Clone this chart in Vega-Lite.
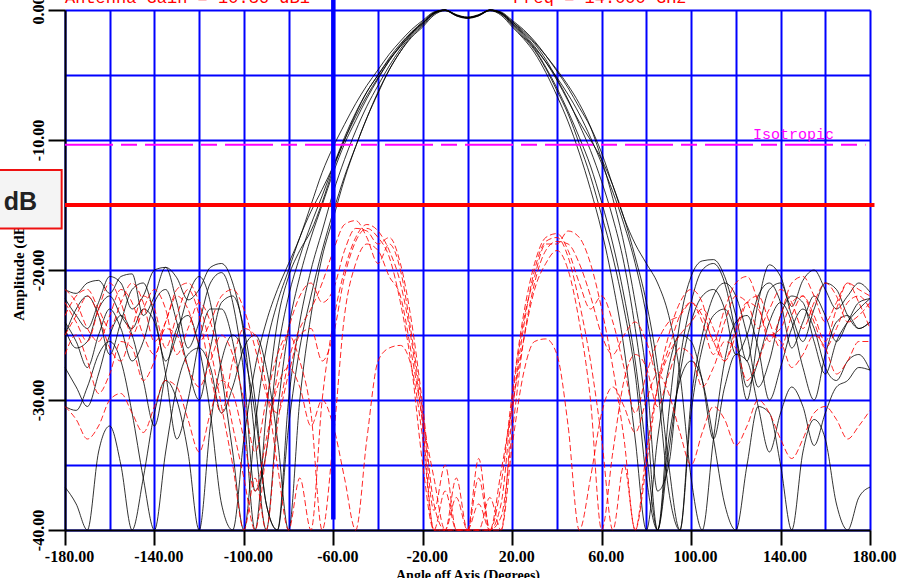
{
"$schema":"https://vega.github.io/schema/vega-lite/v6.json",
"width":805,"height":520,
"autosize":{"type":"none"},
"padding":{"left":65,"top":10,"right":27,"bottom":48},
"background":"white",
"config":{"view":{"stroke":null}},
"datasets":{
"c":[
{"s":"b1","x":-180,"y":-21.5},{"s":"b1","x":-175,"y":-21.8},{"s":"b1","x":-170,"y":-21.0},{"s":"b1","x":-165,"y":-20.8},{"s":"b1","x":-160,"y":-21.8},{"s":"b1","x":-155,"y":-20.5},{"s":"b1","x":-150,"y":-20.3},{"s":"b1","x":-145,"y":-23.5},{"s":"b1","x":-140,"y":-22.0},{"s":"b1","x":-135,"y":-19.8},{"s":"b1","x":-130,"y":-20.6},{"s":"b1","x":-125,"y":-22.3},{"s":"b1","x":-120,"y":-21.5},{"s":"b1","x":-115,"y":-19.8},{"s":"b1","x":-110,"y":-19.5},{"s":"b1","x":-105,"y":-21.0},{"s":"b1","x":-100,"y":-25.0},{"s":"b1","x":-95,"y":-33.0},{"s":"b1","x":-90,"y":-40.0},{"s":"b1","x":-85,"y":-31.0},{"s":"b1","x":-80,"y":-24.5},{"s":"b1","x":-75,"y":-20.5},{"s":"b1","x":-70,"y":-17.5},{"s":"b1","x":-65,"y":-15.0},{"s":"b1","x":-60,"y":-12.5},{"s":"b1","x":-55,"y":-10.3},{"s":"b1","x":-50,"y":-8.5},{"s":"b1","x":-45,"y":-6.8},{"s":"b1","x":-40,"y":-5.3},{"s":"b1","x":-35,"y":-3.9},{"s":"b1","x":-30,"y":-2.7},{"s":"b1","x":-25,"y":-1.7},{"s":"b1","x":-20,"y":-0.9},{"s":"b1","x":-15,"y":-0.2},{"s":"b1","x":-10,"y":0},{"s":"b1","x":-5,"y":-0.4},{"s":"b1","x":0,"y":-0.6},{"s":"b1","x":5,"y":-0.4},{"s":"b1","x":10,"y":0},{"s":"b1","x":15,"y":-0.2},{"s":"b1","x":20,"y":-0.9},{"s":"b1","x":25,"y":-1.7},{"s":"b1","x":30,"y":-2.6},{"s":"b1","x":35,"y":-3.8},{"s":"b1","x":40,"y":-5.3},{"s":"b1","x":45,"y":-6.9},{"s":"b1","x":50,"y":-8.8},{"s":"b1","x":55,"y":-10.8},{"s":"b1","x":60,"y":-13.2},{"s":"b1","x":65,"y":-16.0},{"s":"b1","x":70,"y":-19.5},{"s":"b1","x":75,"y":-24.5},{"s":"b1","x":80,"y":-31.0},{"s":"b1","x":85,"y":-40.0},{"s":"b1","x":90,"y":-31.0},{"s":"b1","x":95,"y":-24.0},{"s":"b1","x":100,"y":-20.5},{"s":"b1","x":105,"y":-19.3},{"s":"b1","x":110,"y":-19.2},{"s":"b1","x":115,"y":-20.5},{"s":"b1","x":120,"y":-23.5},{"s":"b1","x":125,"y":-27.0},{"s":"b1","x":130,"y":-22.5},{"s":"b1","x":135,"y":-19.6},{"s":"b1","x":140,"y":-20.5},{"s":"b1","x":145,"y":-22.8},{"s":"b1","x":150,"y":-20.8},{"s":"b1","x":155,"y":-20.0},{"s":"b1","x":160,"y":-21.5},{"s":"b1","x":165,"y":-23.0},{"s":"b1","x":170,"y":-22.0},{"s":"b1","x":175,"y":-21.0},{"s":"b1","x":180,"y":-21.7},
{"s":"b2","x":-180,"y":-24.0},{"s":"b2","x":-175,"y":-25.5},{"s":"b2","x":-170,"y":-27.5},{"s":"b2","x":-165,"y":-25.0},{"s":"b2","x":-160,"y":-23.0},{"s":"b2","x":-155,"y":-24.5},{"s":"b2","x":-150,"y":-27.0},{"s":"b2","x":-145,"y":-25.5},{"s":"b2","x":-140,"y":-22.5},{"s":"b2","x":-135,"y":-21.5},{"s":"b2","x":-130,"y":-24.0},{"s":"b2","x":-125,"y":-27.5},{"s":"b2","x":-120,"y":-30.0},{"s":"b2","x":-115,"y":-26.0},{"s":"b2","x":-110,"y":-22.5},{"s":"b2","x":-105,"y":-22.0},{"s":"b2","x":-100,"y":-24.5},{"s":"b2","x":-95,"y":-30.0},{"s":"b2","x":-90,"y":-38.0},{"s":"b2","x":-85,"y":-40.0},{"s":"b2","x":-80,"y":-32.0},{"s":"b2","x":-75,"y":-26.0},{"s":"b2","x":-70,"y":-22.0},{"s":"b2","x":-65,"y":-18.5},{"s":"b2","x":-60,"y":-15.5},{"s":"b2","x":-55,"y":-12.8},{"s":"b2","x":-50,"y":-10.5},{"s":"b2","x":-45,"y":-8.3},{"s":"b2","x":-40,"y":-6.4},{"s":"b2","x":-35,"y":-4.6},{"s":"b2","x":-30,"y":-3.2},{"s":"b2","x":-25,"y":-2.0},{"s":"b2","x":-20,"y":-1.2},{"s":"b2","x":-15,"y":-0.3},{"s":"b2","x":-10,"y":-0.05},{"s":"b2","x":-5,"y":-0.4},{"s":"b2","x":0,"y":-0.6},{"s":"b2","x":5,"y":-0.4},{"s":"b2","x":10,"y":-0.05},{"s":"b2","x":15,"y":-0.3},{"s":"b2","x":20,"y":-1.2},{"s":"b2","x":25,"y":-2.1},{"s":"b2","x":30,"y":-3.1},{"s":"b2","x":35,"y":-4.5},{"s":"b2","x":40,"y":-6.2},{"s":"b2","x":45,"y":-8.0},{"s":"b2","x":50,"y":-10.3},{"s":"b2","x":55,"y":-12.8},{"s":"b2","x":60,"y":-15.8},{"s":"b2","x":65,"y":-19.0},{"s":"b2","x":70,"y":-23.0},{"s":"b2","x":75,"y":-28.0},{"s":"b2","x":80,"y":-36.0},{"s":"b2","x":85,"y":-40.0},{"s":"b2","x":90,"y":-34.0},{"s":"b2","x":95,"y":-28.0},{"s":"b2","x":100,"y":-24.0},{"s":"b2","x":105,"y":-22.0},{"s":"b2","x":110,"y":-21.5},{"s":"b2","x":115,"y":-23.0},{"s":"b2","x":120,"y":-26.5},{"s":"b2","x":125,"y":-25.0},{"s":"b2","x":130,"y":-22.0},{"s":"b2","x":135,"y":-21.0},{"s":"b2","x":140,"y":-22.5},{"s":"b2","x":145,"y":-26.0},{"s":"b2","x":150,"y":-24.0},{"s":"b2","x":155,"y":-22.0},{"s":"b2","x":160,"y":-23.5},{"s":"b2","x":165,"y":-25.5},{"s":"b2","x":170,"y":-24.0},{"s":"b2","x":175,"y":-22.5},{"s":"b2","x":180,"y":-22.2},
{"s":"b3","x":-180,"y":-27.5},{"s":"b3","x":-175,"y":-29.0},{"s":"b3","x":-170,"y":-30.5},{"s":"b3","x":-165,"y":-28.0},{"s":"b3","x":-160,"y":-25.0},{"s":"b3","x":-155,"y":-23.5},{"s":"b3","x":-150,"y":-25.0},{"s":"b3","x":-145,"y":-28.5},{"s":"b3","x":-140,"y":-32.0},{"s":"b3","x":-135,"y":-28.0},{"s":"b3","x":-130,"y":-24.5},{"s":"b3","x":-125,"y":-23.5},{"s":"b3","x":-120,"y":-26.0},{"s":"b3","x":-115,"y":-31.0},{"s":"b3","x":-110,"y":-38.0},{"s":"b3","x":-105,"y":-40.0},{"s":"b3","x":-100,"y":-33.0},{"s":"b3","x":-95,"y":-27.5},{"s":"b3","x":-90,"y":-24.0},{"s":"b3","x":-85,"y":-21.5},{"s":"b3","x":-80,"y":-19.5},{"s":"b3","x":-75,"y":-17.5},{"s":"b3","x":-70,"y":-15.0},{"s":"b3","x":-65,"y":-12.5},{"s":"b3","x":-60,"y":-10.5},{"s":"b3","x":-55,"y":-8.8},{"s":"b3","x":-50,"y":-7.2},{"s":"b3","x":-45,"y":-5.8},{"s":"b3","x":-40,"y":-4.6},{"s":"b3","x":-35,"y":-3.4},{"s":"b3","x":-30,"y":-2.4},{"s":"b3","x":-25,"y":-1.5},{"s":"b3","x":-20,"y":-0.8},{"s":"b3","x":-15,"y":-0.15},{"s":"b3","x":-10,"y":0},{"s":"b3","x":-5,"y":-0.4},{"s":"b3","x":0,"y":-0.55},{"s":"b3","x":5,"y":-0.4},{"s":"b3","x":10,"y":0},{"s":"b3","x":15,"y":-0.15},{"s":"b3","x":20,"y":-0.8},{"s":"b3","x":25,"y":-1.5},{"s":"b3","x":30,"y":-2.4},{"s":"b3","x":35,"y":-3.5},{"s":"b3","x":40,"y":-4.7},{"s":"b3","x":45,"y":-6.0},{"s":"b3","x":50,"y":-7.5},{"s":"b3","x":55,"y":-9.0},{"s":"b3","x":60,"y":-11.0},{"s":"b3","x":65,"y":-13.5},{"s":"b3","x":70,"y":-16.0},{"s":"b3","x":75,"y":-18.0},{"s":"b3","x":80,"y":-19.5},{"s":"b3","x":85,"y":-21.0},{"s":"b3","x":90,"y":-23.5},{"s":"b3","x":95,"y":-28.0},{"s":"b3","x":100,"y":-36.0},{"s":"b3","x":105,"y":-40.0},{"s":"b3","x":110,"y":-33.0},{"s":"b3","x":115,"y":-27.0},{"s":"b3","x":120,"y":-24.0},{"s":"b3","x":125,"y":-23.5},{"s":"b3","x":130,"y":-26.0},{"s":"b3","x":135,"y":-30.0},{"s":"b3","x":140,"y":-27.5},{"s":"b3","x":145,"y":-24.5},{"s":"b3","x":150,"y":-23.0},{"s":"b3","x":155,"y":-24.5},{"s":"b3","x":160,"y":-27.5},{"s":"b3","x":165,"y":-28.5},{"s":"b3","x":170,"y":-27.0},{"s":"b3","x":175,"y":-26.5},{"s":"b3","x":180,"y":-27.7},
{"s":"b4","x":-180,"y":-36.7},{"s":"b4","x":-175,"y":-38.0},{"s":"b4","x":-170,"y":-40.0},{"s":"b4","x":-165,"y":-34.0},{"s":"b4","x":-160,"y":-32.0},{"s":"b4","x":-155,"y":-35.0},{"s":"b4","x":-150,"y":-40.0},{"s":"b4","x":-145,"y":-36.0},{"s":"b4","x":-140,"y":-31.0},{"s":"b4","x":-135,"y":-28.5},{"s":"b4","x":-130,"y":-30.0},{"s":"b4","x":-125,"y":-34.0},{"s":"b4","x":-120,"y":-40.0},{"s":"b4","x":-115,"y":-32.0},{"s":"b4","x":-110,"y":-27.0},{"s":"b4","x":-105,"y":-25.0},{"s":"b4","x":-100,"y":-26.5},{"s":"b4","x":-95,"y":-31.0},{"s":"b4","x":-90,"y":-38.0},{"s":"b4","x":-85,"y":-40.0},{"s":"b4","x":-80,"y":-30.0},{"s":"b4","x":-75,"y":-24.0},{"s":"b4","x":-70,"y":-20.0},{"s":"b4","x":-65,"y":-17.0},{"s":"b4","x":-60,"y":-14.0},{"s":"b4","x":-55,"y":-11.5},{"s":"b4","x":-50,"y":-9.3},{"s":"b4","x":-45,"y":-7.4},{"s":"b4","x":-40,"y":-5.8},{"s":"b4","x":-35,"y":-4.3},{"s":"b4","x":-30,"y":-3.0},{"s":"b4","x":-25,"y":-1.9},{"s":"b4","x":-20,"y":-1.1},{"s":"b4","x":-15,"y":-0.3},{"s":"b4","x":-10,"y":0},{"s":"b4","x":-5,"y":-0.45},{"s":"b4","x":0,"y":-0.65},{"s":"b4","x":5,"y":-0.45},{"s":"b4","x":10,"y":0},{"s":"b4","x":15,"y":-0.3},{"s":"b4","x":20,"y":-1.1},{"s":"b4","x":25,"y":-2.0},{"s":"b4","x":30,"y":-3.0},{"s":"b4","x":35,"y":-4.4},{"s":"b4","x":40,"y":-6.0},{"s":"b4","x":45,"y":-7.8},{"s":"b4","x":50,"y":-9.8},{"s":"b4","x":55,"y":-12.0},{"s":"b4","x":60,"y":-14.8},{"s":"b4","x":65,"y":-18.0},{"s":"b4","x":70,"y":-22.0},{"s":"b4","x":75,"y":-27.0},{"s":"b4","x":80,"y":-34.0},{"s":"b4","x":85,"y":-40.0},{"s":"b4","x":90,"y":-33.0},{"s":"b4","x":95,"y":-28.5},{"s":"b4","x":100,"y":-27.0},{"s":"b4","x":105,"y":-28.5},{"s":"b4","x":110,"y":-33.0},{"s":"b4","x":115,"y":-38.0},{"s":"b4","x":120,"y":-40.0},{"s":"b4","x":125,"y":-35.0},{"s":"b4","x":130,"y":-30.5},{"s":"b4","x":135,"y":-31.0},{"s":"b4","x":140,"y":-35.0},{"s":"b4","x":145,"y":-40.0},{"s":"b4","x":150,"y":-34.0},{"s":"b4","x":155,"y":-31.5},{"s":"b4","x":160,"y":-33.0},{"s":"b4","x":165,"y":-38.0},{"s":"b4","x":170,"y":-40.0},{"s":"b4","x":175,"y":-37.5},{"s":"b4","x":180,"y":-36.7},
{"s":"b5","x":-180,"y":-25.0},{"s":"b5","x":-175,"y":-23.0},{"s":"b5","x":-170,"y":-22.0},{"s":"b5","x":-165,"y":-23.5},{"s":"b5","x":-160,"y":-26.5},{"s":"b5","x":-155,"y":-24.0},{"s":"b5","x":-150,"y":-21.5},{"s":"b5","x":-145,"y":-21.0},{"s":"b5","x":-140,"y":-23.5},{"s":"b5","x":-135,"y":-27.0},{"s":"b5","x":-130,"y":-25.0},{"s":"b5","x":-125,"y":-22.0},{"s":"b5","x":-120,"y":-20.5},{"s":"b5","x":-115,"y":-22.5},{"s":"b5","x":-110,"y":-28.0},{"s":"b5","x":-105,"y":-34.0},{"s":"b5","x":-100,"y":-40.0},{"s":"b5","x":-95,"y":-32.0},{"s":"b5","x":-90,"y":-26.0},{"s":"b5","x":-85,"y":-22.5},{"s":"b5","x":-80,"y":-20.0},{"s":"b5","x":-75,"y":-17.5},{"s":"b5","x":-70,"y":-15.5},{"s":"b5","x":-65,"y":-13.8},{"s":"b5","x":-60,"y":-12.0},{"s":"b5","x":-55,"y":-10.0},{"s":"b5","x":-50,"y":-8.0},{"s":"b5","x":-45,"y":-6.3},{"s":"b5","x":-40,"y":-5.0},{"s":"b5","x":-35,"y":-3.7},{"s":"b5","x":-30,"y":-2.6},{"s":"b5","x":-25,"y":-1.7},{"s":"b5","x":-20,"y":-1.0},{"s":"b5","x":-15,"y":-0.25},{"s":"b5","x":-10,"y":-0.02},{"s":"b5","x":-5,"y":-0.4},{"s":"b5","x":0,"y":-0.6},{"s":"b5","x":5,"y":-0.4},{"s":"b5","x":10,"y":-0.02},{"s":"b5","x":15,"y":-0.25},{"s":"b5","x":20,"y":-1.0},{"s":"b5","x":25,"y":-1.9},{"s":"b5","x":30,"y":-2.9},{"s":"b5","x":35,"y":-4.0},{"s":"b5","x":40,"y":-5.2},{"s":"b5","x":45,"y":-6.5},{"s":"b5","x":50,"y":-8.0},{"s":"b5","x":55,"y":-9.8},{"s":"b5","x":60,"y":-11.8},{"s":"b5","x":65,"y":-14.0},{"s":"b5","x":70,"y":-16.5},{"s":"b5","x":75,"y":-19.5},{"s":"b5","x":80,"y":-23.5},{"s":"b5","x":85,"y":-29.0},{"s":"b5","x":90,"y":-37.0},{"s":"b5","x":95,"y":-40.0},{"s":"b5","x":100,"y":-31.0},{"s":"b5","x":105,"y":-26.0},{"s":"b5","x":110,"y":-23.5},{"s":"b5","x":115,"y":-23.0},{"s":"b5","x":120,"y":-25.0},{"s":"b5","x":125,"y":-29.0},{"s":"b5","x":130,"y":-27.0},{"s":"b5","x":135,"y":-24.0},{"s":"b5","x":140,"y":-22.5},{"s":"b5","x":145,"y":-24.0},{"s":"b5","x":150,"y":-27.5},{"s":"b5","x":155,"y":-30.0},{"s":"b5","x":160,"y":-26.5},{"s":"b5","x":165,"y":-24.0},{"s":"b5","x":170,"y":-23.5},{"s":"b5","x":175,"y":-24.5},{"s":"b5","x":180,"y":-24.0},
{"s":"b6","x":-180,"y":-30.5},{"s":"b6","x":-175,"y":-30.8},{"s":"b6","x":-170,"y":-29.0},{"s":"b6","x":-165,"y":-26.5},{"s":"b6","x":-160,"y":-25.5},{"s":"b6","x":-155,"y":-27.0},{"s":"b6","x":-150,"y":-31.0},{"s":"b6","x":-145,"y":-36.0},{"s":"b6","x":-140,"y":-40.0},{"s":"b6","x":-135,"y":-34.0},{"s":"b6","x":-130,"y":-29.0},{"s":"b6","x":-125,"y":-26.5},{"s":"b6","x":-120,"y":-26.0},{"s":"b6","x":-115,"y":-27.5},{"s":"b6","x":-110,"y":-31.0},{"s":"b6","x":-105,"y":-29.0},{"s":"b6","x":-100,"y":-26.0},{"s":"b6","x":-95,"y":-25.0},{"s":"b6","x":-90,"y":-27.5},{"s":"b6","x":-85,"y":-33.0},{"s":"b6","x":-80,"y":-40.0},{"s":"b6","x":-75,"y":-30.0},{"s":"b6","x":-70,"y":-23.5},{"s":"b6","x":-65,"y":-19.0},{"s":"b6","x":-60,"y":-16.0},{"s":"b6","x":-55,"y":-13.0},{"s":"b6","x":-50,"y":-10.5},{"s":"b6","x":-45,"y":-8.3},{"s":"b6","x":-40,"y":-6.3},{"s":"b6","x":-35,"y":-4.6},{"s":"b6","x":-30,"y":-3.2},{"s":"b6","x":-25,"y":-2.1},{"s":"b6","x":-20,"y":-1.3},{"s":"b6","x":-15,"y":-0.4},{"s":"b6","x":-10,"y":-0.05},{"s":"b6","x":-5,"y":-0.45},{"s":"b6","x":0,"y":-0.6},{"s":"b6","x":5,"y":-0.45},{"s":"b6","x":10,"y":-0.05},{"s":"b6","x":15,"y":-0.4},{"s":"b6","x":20,"y":-1.3},{"s":"b6","x":25,"y":-2.2},{"s":"b6","x":30,"y":-3.3},{"s":"b6","x":35,"y":-4.8},{"s":"b6","x":40,"y":-6.6},{"s":"b6","x":45,"y":-8.6},{"s":"b6","x":50,"y":-11.0},{"s":"b6","x":55,"y":-13.8},{"s":"b6","x":60,"y":-17.0},{"s":"b6","x":65,"y":-21.0},{"s":"b6","x":70,"y":-26.0},{"s":"b6","x":75,"y":-33.0},{"s":"b6","x":80,"y":-40.0},{"s":"b6","x":85,"y":-33.0},{"s":"b6","x":90,"y":-27.5},{"s":"b6","x":95,"y":-25.0},{"s":"b6","x":100,"y":-25.5},{"s":"b6","x":105,"y":-28.5},{"s":"b6","x":110,"y":-33.0},{"s":"b6","x":115,"y":-29.0},{"s":"b6","x":120,"y":-26.5},{"s":"b6","x":125,"y":-27.0},{"s":"b6","x":130,"y":-30.5},{"s":"b6","x":135,"y":-34.0},{"s":"b6","x":140,"y":-31.0},{"s":"b6","x":145,"y":-29.0},{"s":"b6","x":150,"y":-30.5},{"s":"b6","x":155,"y":-33.5},{"s":"b6","x":160,"y":-31.0},{"s":"b6","x":165,"y":-29.0},{"s":"b6","x":170,"y":-28.5},{"s":"b6","x":175,"y":-27.5},{"s":"b6","x":180,"y":-27.7},
{"s":"b7","x":-180,"y":-22.2},{"s":"b7","x":-175,"y":-23.5},{"s":"b7","x":-170,"y":-24.5},{"s":"b7","x":-165,"y":-22.5},{"s":"b7","x":-160,"y":-20.5},{"s":"b7","x":-155,"y":-21.0},{"s":"b7","x":-150,"y":-23.0},{"s":"b7","x":-145,"y":-22.0},{"s":"b7","x":-140,"y":-20.0},{"s":"b7","x":-135,"y":-19.8},{"s":"b7","x":-130,"y":-22.5},{"s":"b7","x":-125,"y":-26.0},{"s":"b7","x":-120,"y":-24.0},{"s":"b7","x":-115,"y":-21.0},{"s":"b7","x":-110,"y":-20.2},{"s":"b7","x":-105,"y":-22.5},{"s":"b7","x":-100,"y":-28.0},{"s":"b7","x":-95,"y":-37.0},{"s":"b7","x":-90,"y":-34.0},{"s":"b7","x":-85,"y":-26.5},{"s":"b7","x":-80,"y":-22.0},{"s":"b7","x":-75,"y":-19.0},{"s":"b7","x":-70,"y":-16.5},{"s":"b7","x":-65,"y":-14.3},{"s":"b7","x":-60,"y":-12.0},{"s":"b7","x":-55,"y":-9.8},{"s":"b7","x":-50,"y":-7.9},{"s":"b7","x":-45,"y":-6.3},{"s":"b7","x":-40,"y":-5.0},{"s":"b7","x":-35,"y":-3.8},{"s":"b7","x":-30,"y":-2.8},{"s":"b7","x":-25,"y":-1.8},{"s":"b7","x":-20,"y":-1.0},{"s":"b7","x":-15,"y":-0.2},{"s":"b7","x":-10,"y":0},{"s":"b7","x":-5,"y":-0.35},{"s":"b7","x":0,"y":-0.55},{"s":"b7","x":5,"y":-0.35},{"s":"b7","x":10,"y":0},{"s":"b7","x":15,"y":-0.2},{"s":"b7","x":20,"y":-0.9},{"s":"b7","x":25,"y":-1.6},{"s":"b7","x":30,"y":-2.5},{"s":"b7","x":35,"y":-3.5},{"s":"b7","x":40,"y":-4.6},{"s":"b7","x":45,"y":-5.8},{"s":"b7","x":50,"y":-7.2},{"s":"b7","x":55,"y":-9.0},{"s":"b7","x":60,"y":-11.5},{"s":"b7","x":65,"y":-14.5},{"s":"b7","x":70,"y":-18.0},{"s":"b7","x":75,"y":-22.5},{"s":"b7","x":80,"y":-28.0},{"s":"b7","x":85,"y":-37.0},{"s":"b7","x":90,"y":-35.0},{"s":"b7","x":95,"y":-27.0},{"s":"b7","x":100,"y":-22.5},{"s":"b7","x":105,"y":-20.0},{"s":"b7","x":110,"y":-19.5},{"s":"b7","x":115,"y":-21.0},{"s":"b7","x":120,"y":-25.0},{"s":"b7","x":125,"y":-30.0},{"s":"b7","x":130,"y":-25.0},{"s":"b7","x":135,"y":-21.5},{"s":"b7","x":140,"y":-21.0},{"s":"b7","x":145,"y":-23.5},{"s":"b7","x":150,"y":-25.5},{"s":"b7","x":155,"y":-23.0},{"s":"b7","x":160,"y":-21.0},{"s":"b7","x":165,"y":-21.5},{"s":"b7","x":170,"y":-23.5},{"s":"b7","x":175,"y":-24.5},{"s":"b7","x":180,"y":-24.0},
{"s":"b8","x":-180,"y":-24.5},{"s":"b8","x":-175,"y":-26.0},{"s":"b8","x":-170,"y":-25.5},{"s":"b8","x":-165,"y":-23.0},{"s":"b8","x":-160,"y":-22.0},{"s":"b8","x":-155,"y":-23.5},{"s":"b8","x":-150,"y":-24.5},{"s":"b8","x":-145,"y":-23.0},{"s":"b8","x":-140,"y":-24.0},{"s":"b8","x":-135,"y":-28.0},{"s":"b8","x":-130,"y":-33.0},{"s":"b8","x":-125,"y":-30.0},{"s":"b8","x":-120,"y":-25.5},{"s":"b8","x":-115,"y":-23.0},{"s":"b8","x":-110,"y":-23.0},{"s":"b8","x":-105,"y":-25.5},{"s":"b8","x":-100,"y":-31.0},{"s":"b8","x":-95,"y":-40.0},{"s":"b8","x":-90,"y":-31.0},{"s":"b8","x":-85,"y":-24.0},{"s":"b8","x":-80,"y":-20.5},{"s":"b8","x":-75,"y":-18.5},{"s":"b8","x":-70,"y":-17.0},{"s":"b8","x":-65,"y":-14.8},{"s":"b8","x":-60,"y":-12.2},{"s":"b8","x":-55,"y":-10.0},{"s":"b8","x":-50,"y":-8.2},{"s":"b8","x":-45,"y":-6.6},{"s":"b8","x":-40,"y":-5.2},{"s":"b8","x":-35,"y":-3.9},{"s":"b8","x":-30,"y":-2.8},{"s":"b8","x":-25,"y":-1.8},{"s":"b8","x":-20,"y":-1.0},{"s":"b8","x":-15,"y":-0.25},{"s":"b8","x":-10,"y":0},{"s":"b8","x":-5,"y":-0.4},{"s":"b8","x":0,"y":-0.6},{"s":"b8","x":5,"y":-0.4},{"s":"b8","x":10,"y":0},{"s":"b8","x":15,"y":-0.25},{"s":"b8","x":20,"y":-1.0},{"s":"b8","x":25,"y":-1.8},{"s":"b8","x":30,"y":-2.8},{"s":"b8","x":35,"y":-4.0},{"s":"b8","x":40,"y":-5.4},{"s":"b8","x":45,"y":-7.0},{"s":"b8","x":50,"y":-8.6},{"s":"b8","x":55,"y":-10.0},{"s":"b8","x":60,"y":-11.5},{"s":"b8","x":65,"y":-13.5},{"s":"b8","x":70,"y":-16.0},{"s":"b8","x":75,"y":-19.0},{"s":"b8","x":80,"y":-22.5},{"s":"b8","x":85,"y":-27.5},{"s":"b8","x":90,"y":-35.0},{"s":"b8","x":95,"y":-40.0},{"s":"b8","x":100,"y":-30.0},{"s":"b8","x":105,"y":-25.0},{"s":"b8","x":110,"y":-22.0},{"s":"b8","x":115,"y":-21.0},{"s":"b8","x":120,"y":-22.0},{"s":"b8","x":125,"y":-25.0},{"s":"b8","x":130,"y":-29.0},{"s":"b8","x":135,"y":-27.0},{"s":"b8","x":140,"y":-23.5},{"s":"b8","x":145,"y":-22.0},{"s":"b8","x":150,"y":-22.5},{"s":"b8","x":155,"y":-25.5},{"s":"b8","x":160,"y":-28.0},{"s":"b8","x":165,"y":-25.5},{"s":"b8","x":170,"y":-24.0},{"s":"b8","x":175,"y":-23.0},{"s":"b8","x":180,"y":-22.2},
{"s":"r1","x":-180,"y":-22.5},{"s":"r1","x":-175,"y":-24.0},{"s":"r1","x":-170,"y":-25.5},{"s":"r1","x":-165,"y":-23.0},{"s":"r1","x":-160,"y":-21.0},{"s":"r1","x":-155,"y":-22.5},{"s":"r1","x":-150,"y":-25.0},{"s":"r1","x":-145,"y":-23.0},{"s":"r1","x":-140,"y":-21.5},{"s":"r1","x":-135,"y":-23.0},{"s":"r1","x":-130,"y":-26.5},{"s":"r1","x":-125,"y":-24.5},{"s":"r1","x":-120,"y":-22.5},{"s":"r1","x":-115,"y":-24.0},{"s":"r1","x":-110,"y":-27.5},{"s":"r1","x":-105,"y":-32.0},{"s":"r1","x":-100,"y":-36.0},{"s":"r1","x":-95,"y":-40.0},{"s":"r1","x":-90,"y":-34.0},{"s":"r1","x":-85,"y":-28.0},{"s":"r1","x":-80,"y":-24.5},{"s":"r1","x":-75,"y":-22.0},{"s":"r1","x":-70,"y":-21.0},{"s":"r1","x":-65,"y":-22.5},{"s":"r1","x":-60,"y":-21.5},{"s":"r1","x":-55,"y":-18.5},{"s":"r1","x":-50,"y":-16.8},{"s":"r1","x":-45,"y":-17.0},{"s":"r1","x":-40,"y":-18.0},{"s":"r1","x":-35,"y":-17.5},{"s":"r1","x":-30,"y":-19.5},{"s":"r1","x":-25,"y":-24.0},{"s":"r1","x":-20,"y":-30.5},{"s":"r1","x":-15,"y":-38.0},{"s":"r1","x":-10,"y":-40.0},{"s":"r1","x":-5,"y":-36.0},{"s":"r1","x":0,"y":-40.0},{"s":"r1","x":5,"y":-36.0},{"s":"r1","x":10,"y":-40.0},{"s":"r1","x":15,"y":-36.5},{"s":"r1","x":20,"y":-29.5},{"s":"r1","x":25,"y":-23.5},{"s":"r1","x":30,"y":-19.5},{"s":"r1","x":35,"y":-17.5},{"s":"r1","x":40,"y":-17.2},{"s":"r1","x":45,"y":-18.5},{"s":"r1","x":50,"y":-21.0},{"s":"r1","x":55,"y":-23.0},{"s":"r1","x":60,"y":-22.0},{"s":"r1","x":65,"y":-24.0},{"s":"r1","x":70,"y":-27.5},{"s":"r1","x":75,"y":-31.0},{"s":"r1","x":80,"y":-28.0},{"s":"r1","x":85,"y":-25.5},{"s":"r1","x":90,"y":-24.0},{"s":"r1","x":95,"y":-23.5},{"s":"r1","x":100,"y":-22.5},{"s":"r1","x":105,"y":-24.0},{"s":"r1","x":110,"y":-26.5},{"s":"r1","x":115,"y":-24.0},{"s":"r1","x":120,"y":-22.0},{"s":"r1","x":125,"y":-22.5},{"s":"r1","x":130,"y":-24.5},{"s":"r1","x":135,"y":-23.0},{"s":"r1","x":140,"y":-21.5},{"s":"r1","x":145,"y":-22.5},{"s":"r1","x":150,"y":-24.5},{"s":"r1","x":155,"y":-22.5},{"s":"r1","x":160,"y":-21.0},{"s":"r1","x":165,"y":-22.0},{"s":"r1","x":170,"y":-24.0},{"s":"r1","x":175,"y":-23.5},{"s":"r1","x":180,"y":-22.5},
{"s":"r2","x":-180,"y":-25.0},{"s":"r2","x":-175,"y":-23.5},{"s":"r2","x":-170,"y":-22.0},{"s":"r2","x":-165,"y":-23.5},{"s":"r2","x":-160,"y":-26.0},{"s":"r2","x":-155,"y":-27.0},{"s":"r2","x":-150,"y":-24.5},{"s":"r2","x":-145,"y":-22.0},{"s":"r2","x":-140,"y":-23.0},{"s":"r2","x":-135,"y":-26.0},{"s":"r2","x":-130,"y":-23.5},{"s":"r2","x":-125,"y":-21.5},{"s":"r2","x":-120,"y":-23.5},{"s":"r2","x":-115,"y":-28.0},{"s":"r2","x":-110,"y":-31.0},{"s":"r2","x":-105,"y":-27.0},{"s":"r2","x":-100,"y":-24.5},{"s":"r2","x":-95,"y":-25.0},{"s":"r2","x":-90,"y":-29.0},{"s":"r2","x":-85,"y":-35.0},{"s":"r2","x":-80,"y":-40.0},{"s":"r2","x":-75,"y":-36.0},{"s":"r2","x":-70,"y":-40.0},{"s":"r2","x":-65,"y":-30.0},{"s":"r2","x":-60,"y":-24.0},{"s":"r2","x":-55,"y":-20.0},{"s":"r2","x":-50,"y":-17.5},{"s":"r2","x":-45,"y":-16.5},{"s":"r2","x":-40,"y":-17.0},{"s":"r2","x":-35,"y":-18.5},{"s":"r2","x":-30,"y":-21.0},{"s":"r2","x":-25,"y":-25.5},{"s":"r2","x":-20,"y":-32.0},{"s":"r2","x":-15,"y":-40.0},{"s":"r2","x":-10,"y":-37.0},{"s":"r2","x":-5,"y":-40.0},{"s":"r2","x":0,"y":-40.0},{"s":"r2","x":5,"y":-40.0},{"s":"r2","x":10,"y":-37.5},{"s":"r2","x":15,"y":-40.0},{"s":"r2","x":20,"y":-31.0},{"s":"r2","x":25,"y":-24.5},{"s":"r2","x":30,"y":-20.0},{"s":"r2","x":35,"y":-17.8},{"s":"r2","x":40,"y":-17.5},{"s":"r2","x":45,"y":-19.0},{"s":"r2","x":50,"y":-22.5},{"s":"r2","x":55,"y":-27.0},{"s":"r2","x":60,"y":-33.0},{"s":"r2","x":65,"y":-40.0},{"s":"r2","x":70,"y":-35.0},{"s":"r2","x":75,"y":-40.0},{"s":"r2","x":80,"y":-34.0},{"s":"r2","x":85,"y":-29.0},{"s":"r2","x":90,"y":-26.5},{"s":"r2","x":95,"y":-25.0},{"s":"r2","x":100,"y":-24.0},{"s":"r2","x":105,"y":-23.0},{"s":"r2","x":110,"y":-24.5},{"s":"r2","x":115,"y":-27.0},{"s":"r2","x":120,"y":-25.0},{"s":"r2","x":125,"y":-22.5},{"s":"r2","x":130,"y":-22.0},{"s":"r2","x":135,"y":-24.0},{"s":"r2","x":140,"y":-26.0},{"s":"r2","x":145,"y":-23.5},{"s":"r2","x":150,"y":-22.0},{"s":"r2","x":155,"y":-23.5},{"s":"r2","x":160,"y":-25.5},{"s":"r2","x":165,"y":-23.0},{"s":"r2","x":170,"y":-21.0},{"s":"r2","x":175,"y":-22.5},{"s":"r2","x":180,"y":-24.5},
{"s":"r3","x":-180,"y":-30.5},{"s":"r3","x":-175,"y":-31.5},{"s":"r3","x":-170,"y":-33.0},{"s":"r3","x":-165,"y":-32.0},{"s":"r3","x":-160,"y":-30.0},{"s":"r3","x":-155,"y":-29.5},{"s":"r3","x":-150,"y":-31.0},{"s":"r3","x":-145,"y":-32.5},{"s":"r3","x":-140,"y":-30.5},{"s":"r3","x":-135,"y":-28.5},{"s":"r3","x":-130,"y":-29.0},{"s":"r3","x":-125,"y":-31.5},{"s":"r3","x":-120,"y":-34.0},{"s":"r3","x":-115,"y":-31.0},{"s":"r3","x":-110,"y":-28.5},{"s":"r3","x":-105,"y":-29.5},{"s":"r3","x":-100,"y":-33.0},{"s":"r3","x":-95,"y":-37.0},{"s":"r3","x":-90,"y":-33.0},{"s":"r3","x":-85,"y":-29.0},{"s":"r3","x":-80,"y":-27.5},{"s":"r3","x":-75,"y":-29.0},{"s":"r3","x":-70,"y":-32.0},{"s":"r3","x":-65,"y":-30.0},{"s":"r3","x":-60,"y":-32.0},{"s":"r3","x":-55,"y":-36.0},{"s":"r3","x":-50,"y":-40.0},{"s":"r3","x":-45,"y":-33.0},{"s":"r3","x":-40,"y":-27.0},{"s":"r3","x":-35,"y":-26.0},{"s":"r3","x":-30,"y":-25.8},{"s":"r3","x":-25,"y":-27.5},{"s":"r3","x":-20,"y":-33.0},{"s":"r3","x":-15,"y":-40.0},{"s":"r3","x":-10,"y":-40.0},{"s":"r3","x":-5,"y":-40.0},{"s":"r3","x":0,"y":-40.0},{"s":"r3","x":5,"y":-40.0},{"s":"r3","x":10,"y":-40.0},{"s":"r3","x":15,"y":-40.0},{"s":"r3","x":20,"y":-33.5},{"s":"r3","x":25,"y":-28.0},{"s":"r3","x":30,"y":-25.5},{"s":"r3","x":35,"y":-25.3},{"s":"r3","x":40,"y":-26.5},{"s":"r3","x":45,"y":-32.0},{"s":"r3","x":50,"y":-40.0},{"s":"r3","x":55,"y":-36.0},{"s":"r3","x":60,"y":-31.0},{"s":"r3","x":65,"y":-29.0},{"s":"r3","x":70,"y":-30.5},{"s":"r3","x":75,"y":-32.5},{"s":"r3","x":80,"y":-30.0},{"s":"r3","x":85,"y":-28.0},{"s":"r3","x":90,"y":-29.5},{"s":"r3","x":95,"y":-32.5},{"s":"r3","x":100,"y":-35.0},{"s":"r3","x":105,"y":-32.5},{"s":"r3","x":110,"y":-30.5},{"s":"r3","x":115,"y":-31.5},{"s":"r3","x":120,"y":-33.5},{"s":"r3","x":125,"y":-32.0},{"s":"r3","x":130,"y":-30.0},{"s":"r3","x":135,"y":-31.0},{"s":"r3","x":140,"y":-33.0},{"s":"r3","x":145,"y":-34.5},{"s":"r3","x":150,"y":-33.0},{"s":"r3","x":155,"y":-31.0},{"s":"r3","x":160,"y":-30.5},{"s":"r3","x":165,"y":-31.5},{"s":"r3","x":170,"y":-33.0},{"s":"r3","x":175,"y":-32.0},{"s":"r3","x":180,"y":-30.8},
{"s":"r4","x":-180,"y":-23.5},{"s":"r4","x":-175,"y":-22.0},{"s":"r4","x":-170,"y":-21.5},{"s":"r4","x":-165,"y":-23.0},{"s":"r4","x":-160,"y":-24.5},{"s":"r4","x":-155,"y":-22.5},{"s":"r4","x":-150,"y":-21.0},{"s":"r4","x":-145,"y":-22.5},{"s":"r4","x":-140,"y":-25.5},{"s":"r4","x":-135,"y":-24.0},{"s":"r4","x":-130,"y":-21.5},{"s":"r4","x":-125,"y":-21.0},{"s":"r4","x":-120,"y":-22.5},{"s":"r4","x":-115,"y":-26.0},{"s":"r4","x":-110,"y":-30.5},{"s":"r4","x":-105,"y":-35.0},{"s":"r4","x":-100,"y":-40.0},{"s":"r4","x":-95,"y":-36.0},{"s":"r4","x":-90,"y":-40.0},{"s":"r4","x":-85,"y":-32.0},{"s":"r4","x":-80,"y":-27.0},{"s":"r4","x":-75,"y":-24.5},{"s":"r4","x":-70,"y":-23.0},{"s":"r4","x":-65,"y":-21.0},{"s":"r4","x":-60,"y":-18.5},{"s":"r4","x":-55,"y":-16.5},{"s":"r4","x":-50,"y":-16.2},{"s":"r4","x":-45,"y":-17.5},{"s":"r4","x":-40,"y":-19.5},{"s":"r4","x":-35,"y":-18.0},{"s":"r4","x":-30,"y":-20.0},{"s":"r4","x":-25,"y":-25.0},{"s":"r4","x":-20,"y":-31.0},{"s":"r4","x":-15,"y":-38.5},{"s":"r4","x":-10,"y":-35.0},{"s":"r4","x":-5,"y":-40.0},{"s":"r4","x":0,"y":-40.0},{"s":"r4","x":5,"y":-34.5},{"s":"r4","x":10,"y":-40.0},{"s":"r4","x":15,"y":-38.0},{"s":"r4","x":20,"y":-30.0},{"s":"r4","x":25,"y":-24.0},{"s":"r4","x":30,"y":-20.5},{"s":"r4","x":35,"y":-18.0},{"s":"r4","x":40,"y":-18.0},{"s":"r4","x":45,"y":-17.0},{"s":"r4","x":50,"y":-17.5},{"s":"r4","x":55,"y":-19.5},{"s":"r4","x":60,"y":-23.0},{"s":"r4","x":65,"y":-27.5},{"s":"r4","x":70,"y":-33.0},{"s":"r4","x":75,"y":-40.0},{"s":"r4","x":80,"y":-35.0},{"s":"r4","x":85,"y":-29.0},{"s":"r4","x":90,"y":-25.0},{"s":"r4","x":95,"y":-22.5},{"s":"r4","x":100,"y":-21.5},{"s":"r4","x":105,"y":-22.5},{"s":"r4","x":110,"y":-25.5},{"s":"r4","x":115,"y":-23.0},{"s":"r4","x":120,"y":-21.0},{"s":"r4","x":125,"y":-20.5},{"s":"r4","x":130,"y":-22.5},{"s":"r4","x":135,"y":-25.5},{"s":"r4","x":140,"y":-23.5},{"s":"r4","x":145,"y":-21.0},{"s":"r4","x":150,"y":-20.5},{"s":"r4","x":155,"y":-22.0},{"s":"r4","x":160,"y":-24.0},{"s":"r4","x":165,"y":-22.5},{"s":"r4","x":170,"y":-21.0},{"s":"r4","x":175,"y":-21.5},{"s":"r4","x":180,"y":-22.0},
{"s":"r5","x":-180,"y":-26.5},{"s":"r5","x":-175,"y":-25.0},{"s":"r5","x":-170,"y":-27.0},{"s":"r5","x":-165,"y":-29.5},{"s":"r5","x":-160,"y":-28.0},{"s":"r5","x":-155,"y":-25.5},{"s":"r5","x":-150,"y":-26.0},{"s":"r5","x":-145,"y":-28.5},{"s":"r5","x":-140,"y":-27.0},{"s":"r5","x":-135,"y":-24.5},{"s":"r5","x":-130,"y":-25.0},{"s":"r5","x":-125,"y":-27.5},{"s":"r5","x":-120,"y":-29.0},{"s":"r5","x":-115,"y":-27.0},{"s":"r5","x":-110,"y":-25.0},{"s":"r5","x":-105,"y":-26.5},{"s":"r5","x":-100,"y":-30.0},{"s":"r5","x":-95,"y":-34.0},{"s":"r5","x":-90,"y":-30.0},{"s":"r5","x":-85,"y":-26.5},{"s":"r5","x":-80,"y":-25.0},{"s":"r5","x":-75,"y":-27.0},{"s":"r5","x":-70,"y":-31.0},{"s":"r5","x":-65,"y":-40.0},{"s":"r5","x":-60,"y":-33.0},{"s":"r5","x":-55,"y":-23.5},{"s":"r5","x":-50,"y":-19.5},{"s":"r5","x":-45,"y":-18.0},{"s":"r5","x":-40,"y":-18.5},{"s":"r5","x":-35,"y":-20.5},{"s":"r5","x":-30,"y":-22.0},{"s":"r5","x":-25,"y":-26.5},{"s":"r5","x":-20,"y":-31.5},{"s":"r5","x":-15,"y":-36.0},{"s":"r5","x":-10,"y":-40.0},{"s":"r5","x":-5,"y":-40.0},{"s":"r5","x":0,"y":-40.0},{"s":"r5","x":5,"y":-40.0},{"s":"r5","x":10,"y":-40.0},{"s":"r5","x":15,"y":-35.5},{"s":"r5","x":20,"y":-30.5},{"s":"r5","x":25,"y":-25.5},{"s":"r5","x":30,"y":-21.5},{"s":"r5","x":35,"y":-19.5},{"s":"r5","x":40,"y":-18.5},{"s":"r5","x":45,"y":-20.0},{"s":"r5","x":50,"y":-24.0},{"s":"r5","x":55,"y":-30.0},{"s":"r5","x":60,"y":-40.0},{"s":"r5","x":65,"y":-34.0},{"s":"r5","x":70,"y":-28.5},{"s":"r5","x":75,"y":-26.5},{"s":"r5","x":80,"y":-27.5},{"s":"r5","x":85,"y":-30.5},{"s":"r5","x":90,"y":-28.0},{"s":"r5","x":95,"y":-26.0},{"s":"r5","x":100,"y":-26.5},{"s":"r5","x":105,"y":-29.0},{"s":"r5","x":110,"y":-27.5},{"s":"r5","x":115,"y":-25.5},{"s":"r5","x":120,"y":-26.0},{"s":"r5","x":125,"y":-28.5},{"s":"r5","x":130,"y":-27.0},{"s":"r5","x":135,"y":-25.0},{"s":"r5","x":140,"y":-25.5},{"s":"r5","x":145,"y":-27.5},{"s":"r5","x":150,"y":-26.5},{"s":"r5","x":155,"y":-25.0},{"s":"r5","x":160,"y":-26.0},{"s":"r5","x":165,"y":-28.0},{"s":"r5","x":170,"y":-27.0},{"s":"r5","x":175,"y":-25.5},{"s":"r5","x":180,"y":-25.5},
{"s":"r6","x":-180,"y":-21.5},{"s":"r6","x":-175,"y":-22.5},{"s":"r6","x":-170,"y":-24.5},{"s":"r6","x":-165,"y":-25.5},{"s":"r6","x":-160,"y":-23.5},{"s":"r6","x":-155,"y":-21.5},{"s":"r6","x":-150,"y":-22.5},{"s":"r6","x":-145,"y":-25.0},{"s":"r6","x":-140,"y":-26.5},{"s":"r6","x":-135,"y":-24.0},{"s":"r6","x":-130,"y":-22.0},{"s":"r6","x":-125,"y":-23.0},{"s":"r6","x":-120,"y":-25.5},{"s":"r6","x":-115,"y":-24.0},{"s":"r6","x":-110,"y":-22.0},{"s":"r6","x":-105,"y":-21.5},{"s":"r6","x":-100,"y":-23.0},{"s":"r6","x":-95,"y":-26.0},{"s":"r6","x":-90,"y":-29.5},{"s":"r6","x":-85,"y":-31.0},{"s":"r6","x":-80,"y":-28.0},{"s":"r6","x":-75,"y":-25.0},{"s":"r6","x":-70,"y":-24.5},{"s":"r6","x":-65,"y":-27.0},{"s":"r6","x":-60,"y":-25.0},{"s":"r6","x":-55,"y":-20.5},{"s":"r6","x":-50,"y":-17.8},{"s":"r6","x":-45,"y":-16.8},{"s":"r6","x":-40,"y":-17.5},{"s":"r6","x":-35,"y":-19.0},{"s":"r6","x":-30,"y":-22.5},{"s":"r6","x":-25,"y":-27.5},{"s":"r6","x":-20,"y":-35.0},{"s":"r6","x":-15,"y":-40.0},{"s":"r6","x":-10,"y":-40.0},{"s":"r6","x":-5,"y":-37.5},{"s":"r6","x":0,"y":-40.0},{"s":"r6","x":5,"y":-38.0},{"s":"r6","x":10,"y":-40.0},{"s":"r6","x":15,"y":-39.0},{"s":"r6","x":20,"y":-32.5},{"s":"r6","x":25,"y":-25.5},{"s":"r6","x":30,"y":-21.0},{"s":"r6","x":35,"y":-18.5},{"s":"r6","x":40,"y":-17.8},{"s":"r6","x":45,"y":-18.0},{"s":"r6","x":50,"y":-19.5},{"s":"r6","x":55,"y":-22.0},{"s":"r6","x":60,"y":-25.0},{"s":"r6","x":65,"y":-26.5},{"s":"r6","x":70,"y":-25.0},{"s":"r6","x":75,"y":-24.0},{"s":"r6","x":80,"y":-25.5},{"s":"r6","x":85,"y":-28.0},{"s":"r6","x":90,"y":-26.0},{"s":"r6","x":95,"y":-23.5},{"s":"r6","x":100,"y":-22.5},{"s":"r6","x":105,"y":-23.5},{"s":"r6","x":110,"y":-25.5},{"s":"r6","x":115,"y":-27.0},{"s":"r6","x":120,"y":-24.5},{"s":"r6","x":125,"y":-22.5},{"s":"r6","x":130,"y":-23.0},{"s":"r6","x":135,"y":-25.0},{"s":"r6","x":140,"y":-24.5},{"s":"r6","x":145,"y":-22.5},{"s":"r6","x":150,"y":-22.0},{"s":"r6","x":155,"y":-24.0},{"s":"r6","x":160,"y":-26.0},{"s":"r6","x":165,"y":-24.5},{"s":"r6","x":170,"y":-22.5},{"s":"r6","x":175,"y":-22.0},{"s":"r6","x":180,"y":-23.0}
],
"lim":[{"x":-180,"x2":182,"y":-15}],
"iso":[{"x":-180,"x2":178,"y":-10.36}],
"az":[{"x":-60,"y":0.8,"y2":-39.2}],
"hdr":[{"x":-180,"y":0.55,"t":"Antenna Gain = 10.36 dBi"},{"x":20.4,"y":0.55,"t":"Freq = 14.000 GHz"}],
"isol":[{"x":127.7,"y":-9.95,"t":"Isotropic"}],
"box":[{"x":-214,"x2":-181.5,"y":-12.3,"y2":-16.8}],
"boxt":[{"x":-192.5,"y":-15.4,"t":"dB"}]
},
"layer":[
{"data":{"name":"c"},"transform":[{"filter":"datum.s[0]==='b'"}],
 "mark":{"type":"line","color":"black","strokeWidth":1,"opacity":0.8,"interpolate":"monotone"},
 "encoding":{
  "x":{"field":"x","type":"quantitative","scale":{"domain":[-180,180],"nice":false,"zero":false},
   "axis":{"values":[-180,-160,-140,-120,-100,-80,-60,-40,-20,0,20,40,60,80,100,120,140,160,180],
    "grid":true,"gridColor":"#0000ff","gridWidth":2,"gridOpacity":1,
    "domainColor":"black","domainWidth":2,"tickColor":"black","tickWidth":2,"tickSize":15,
    "tickOpacity":{"condition":{"test":"(datum.value+180)%40===0","value":1},"value":0},
    "labelExpr":"(datum.value+180)%40===0 ? replace(format(datum.value,'.2f'),'\u2212','-') : ''",
    "labelFont":"Liberation Serif","labelFontWeight":"bold","labelFontSize":16,"labelColor":"black","labelPadding":3,"labelOffset":4,
    "labelOverlap":false,"labelFlush":false,
    "title":"Angle off Axis  (Degrees)","titleFont":"Liberation Serif","titleFontWeight":"bold","titleFontSize":14,"titleColor":"black","titlePadding":4}},
  "y":{"field":"y","type":"quantitative","scale":{"domain":[-40,0],"nice":false},
   "axis":{"values":[-40,-35,-30,-25,-20,-15,-10,-5,0],
    "grid":true,"gridColor":"#0000ff","gridWidth":2,"gridOpacity":1,
    "domainColor":"black","domainWidth":2,"tickColor":"black","tickWidth":2,"tickSize":17,
    "tickOpacity":{"condition":{"test":"datum.value%10===0","value":1},"value":0},
    "labelExpr":"datum.value%10===0 ? replace(format(datum.value,'.2f'),'\u2212','-') : ''",
    "labelAngle":270,"labelAlign":"center","labelBaseline":"bottom",
    "labelFont":"Liberation Serif","labelFontWeight":"bold","labelFontSize":16,"labelColor":"black","labelPadding":2,
    "labelOverlap":false,"labelFlush":false,
    "title":"Amplitude  (dB)","titleFont":"Liberation Serif","titleFontWeight":"bold","titleFontSize":15,"titleColor":"black","titlePadding":4}},
  "detail":{"field":"s"}}},
{"data":{"name":"c"},"transform":[{"filter":"datum.s[0]==='r'"}],
 "mark":{"type":"line","color":"#ff0000","strokeWidth":1,"strokeDash":[6,3],"opacity":0.85,"interpolate":"monotone"},
 "encoding":{"x":{"field":"x","type":"quantitative"},"y":{"field":"y","type":"quantitative"},"detail":{"field":"s"}}},
{"data":{"name":"iso"},"mark":{"type":"rule","color":"#ff00ff","strokeWidth":2,"strokeDash":[48,8,16,8]},
 "encoding":{"x":{"field":"x","type":"quantitative"},"x2":{"field":"x2"},"y":{"field":"y","type":"quantitative"}}},
{"data":{"name":"lim"},"mark":{"type":"rule","color":"#ff0000","strokeWidth":4},
 "encoding":{"x":{"field":"x","type":"quantitative"},"x2":{"field":"x2"},"y":{"field":"y","type":"quantitative"}}},
{"data":{"name":"az"},"mark":{"type":"rule","color":"#0000ff","strokeWidth":4.5},
 "encoding":{"x":{"field":"x","type":"quantitative"},"y":{"field":"y","type":"quantitative"},"y2":{"field":"y2"}}},
{"data":{"name":"hdr"},"mark":{"type":"text","color":"#ff0000","font":"Liberation Mono","fontSize":17,"align":"left","baseline":"alphabetic"},
 "encoding":{"x":{"field":"x","type":"quantitative"},"y":{"field":"y","type":"quantitative"},"text":{"field":"t"}}},
{"data":{"name":"isol"},"mark":{"type":"text","color":"#ff00ff","font":"Liberation Mono","fontSize":15,"align":"left","baseline":"alphabetic"},
 "encoding":{"x":{"field":"x","type":"quantitative"},"y":{"field":"y","type":"quantitative"},"text":{"field":"t"}}},
{"data":{"name":"box"},"mark":{"type":"rect","fill":"#f4f4f4","stroke":"#ee1111","strokeWidth":2},
 "encoding":{"x":{"field":"x","type":"quantitative"},"x2":{"field":"x2"},"y":{"field":"y","type":"quantitative"},"y2":{"field":"y2"}}},
{"data":{"name":"boxt"},"mark":{"type":"text","color":"#222222","font":"Liberation Sans","fontWeight":"bold","fontSize":25,"align":"right","baseline":"alphabetic"},
 "encoding":{"x":{"field":"x","type":"quantitative"},"y":{"field":"y","type":"quantitative"},"text":{"field":"t"}}}
]
}
